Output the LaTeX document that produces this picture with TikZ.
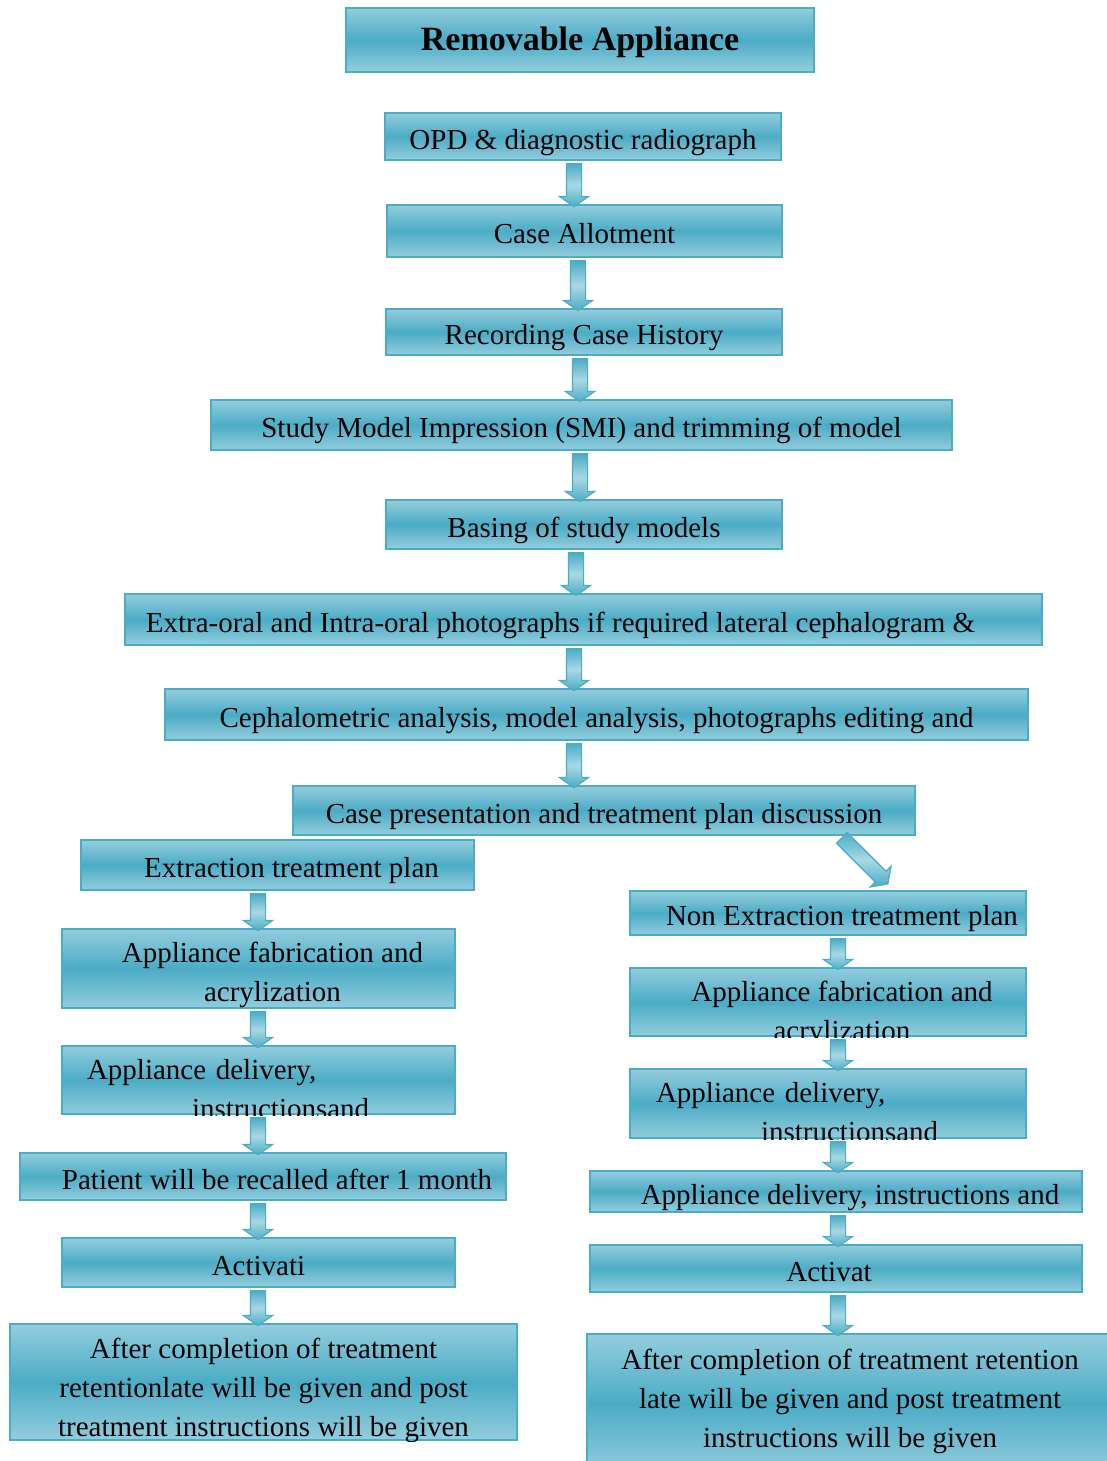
\documentclass[tikz,border=0pt]{standalone}
\usepackage{fontspec}
\setmainfont{Liberation Serif}
\usetikzlibrary{shapes.arrows,calc,positioning}

\definecolor{boxmid}{HTML}{4BACC6}
\definecolor{boxlight}{HTML}{93CDDD}
\definecolor{boxedge}{HTML}{4BACC6}
\definecolor{arrlight}{HTML}{A9D8E4}

\newcommand\stagefont{\fontsize{14.5}{19.5}\selectfont}
\newcommand\nudge{\hspace*{14pt}}
% shaded block arrow between two points
\newcommand\arrowbetween[2]{%
  \path let \p1=(#1), \p2=(#2), \n1={veclen(\x2-\x1,\y2-\y1)}, \n2={atan2(\y2-\y1,\x2-\x1)}
    in node[flowarr, minimum height=\n1, rotate=\n2] at ($(\p1)!0.5!(\p2)$) {};}
\newcommand\flowarrow[3]{\arrowbetween{#1,0 |- #2.south}{#1,0 |- #3.north}}

\begin{document}
\begin{tikzpicture}[x=0.5pt,y=-0.5pt,
  stage/.style={draw=boxedge, line width=1pt, top color=boxlight, bottom color=boxlight,
    middle color=boxmid, inner sep=0pt, font=\stagefont, align=center,
    text height=13pt, text depth=0.5pt},
  dims/.style 2 args={minimum width=#1*0.5pt, minimum height=#2*0.5pt},
  firstline/.style 2 args={text height=#1*0.5pt, text depth=#2*0.5pt},
  wrapped/.style={text width=#1*0.5pt, align=flush center},
  flowarr/.style={single arrow, draw=boxedge, line width=0.6pt, single arrow head extend=3.5pt,
    single arrow tip angle=110, minimum width=14pt, inner xsep=0pt, inner ysep=3.5pt,
    top color=boxedge, bottom color=boxedge, middle color=arrlight}]
\clip (0,0) rectangle (1107,1461);

% main line
\node[stage, dims={468}{64}, font=\fontsize{17}{20}\selectfont\bfseries, text height=10.5pt, text depth=0pt]
  (title) at (580,40) {Removable Appliance};
\node[stage, dims={396}{47}] (opd) at (583,136.5) {OPD \& diagnostic radiograph};
\node[stage, dims={395}{52}] (allot) at (584.5,231) {Case Allotment};
\node[stage, dims={396}{46}] (history) at (584,332) {Recording Case History};
\node[stage, dims={741}{50}] (smi) at (581.5,425) {Study Model Impression (SMI) and trimming of model};
\node[stage, dims={396}{49}] (basing) at (584,524.5) {Basing of study models};
\node[stage, dims={917}{51}] (photos) at (583.5,619.5)
  {Extra-oral and Intra-oral photographs if required lateral cephalogram \&\hspace*{23pt}};
\node[stage, dims={863}{51}] (ceph) at (596.5,714.5)
  {Cephalometric analysis, model analysis, photographs editing and};
\node[stage, dims={622}{49}] (present) at (604,810.5) {Case presentation and treatment plan discussion};

% extraction branch
\node[stage, dims={393}{50}] (extract) at (277.5,865) {\nudge Extraction treatment plan};
\node[stage, dims={393}{79}, firstline={33}{46}, wrapped=393] (lfab) at (258.5,968.5)
  {\nudge Appliance fabrication and\\\nudge acrylization};
\begin{scope}
  \clip (61,1045) rectangle (456,1115);
  \node[stage, dims={393}{68}, firstline={33}{35}, text width=171.5pt, align=left, inner xsep=12.5pt]
    (ldel) at (258.5,1080) {Appliance delivery,\\\hspace*{52.5pt}instructionsand};
\end{scope}
\node[stage, dims={486}{47}] (patient) at (263,1176.5) {\nudge Patient will be recalled after 1 month};
\node[stage, dims={393}{49}] (lact) at (258.5,1262.5) {Activati};
\begin{scope}
  \clip (9,1323) rectangle (518,1441);
  \node[stage, dims={507}{116}, firstline={34}{82}, wrapped=507] (lafter) at (263.5,1382)
    {After completion of treatment\\retentionlate will be given and post\\treatment instructions will be given};
\end{scope}

% non extraction branch
\node[stage, dims={396}{44}] (nonext) at (828,913) {\nudge Non Extraction treatment plan};
\begin{scope}
  \clip (629,967) rectangle (1027,1037);
  \node[stage, dims={396}{68}, firstline={33}{35}, wrapped=396] (rfab) at (828,1002)
    {\nudge Appliance fabrication and\\\nudge acrylization};
\end{scope}
\begin{scope}
  \clip (629,1068) rectangle (1027,1139);
  \node[stage, dims={396}{69}, firstline={33}{36}, text width=172pt, align=left, inner xsep=13pt]
    (rdel) at (828,1103.5) {Appliance delivery,\\\hspace*{52.5pt}instructionsand};
\end{scope}
\node[stage, dims={492}{41}] (rinstr) at (836,1191.5) {\nudge Appliance delivery, instructions and};
\node[stage, dims={492}{47}] (ract) at (836,1268.5) {Activat\hspace*{7pt}};
\node[stage, dims={526}{140}, firstline={35}{105}, wrapped=526] (rafter) at (850,1404)
  {After completion of treatment retention\\late will be given and post treatment\\instructions will be given};

% arrows
\foreach \ax/\from/\to in {574/opd/allot, 578/allot/history, 580/history/smi, 580/smi/basing,
    576/basing/photos, 574/photos/ceph, 574/ceph/present,
    258/extract/lfab, 258/lfab/ldel, 258/ldel/patient, 258/patient/lact, 258/lact/lafter,
    838/nonext/rfab, 838/rfab/rdel, 838/rdel/rinstr, 838/rinstr/ract, 838/ract/rafter}
  \flowarrow{\ax}{\from}{\to};
\coordinate (nonextin) at (886,882);
\arrowbetween{840,0 |- present.south}{nonextin};
\end{tikzpicture}
\end{document}
